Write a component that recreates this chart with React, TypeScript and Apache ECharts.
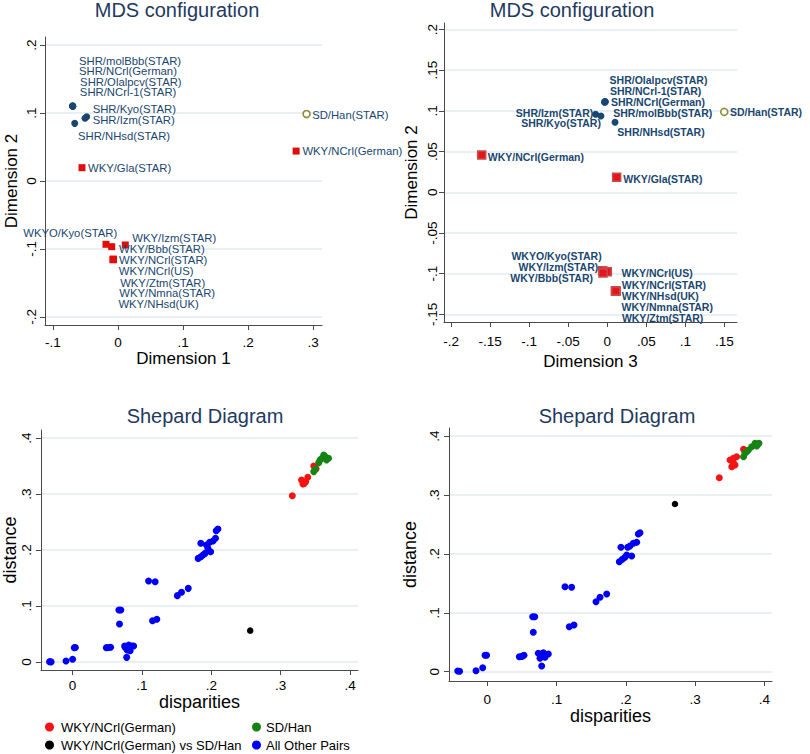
import React, { useEffect, useRef } from 'react';
import * as echarts from 'echarts';

const FONT = '"Liberation Sans", Arial, Helvetica, sans-serif';
const NAVY = '#1a476f';
const TITLE_C = '#1f3a5f';
const OLIVE = '#8b8f3b';
const AXIS_C = '#4a4a4a';
const GRID_C = '#e3ebee';

// ---------------- MDS configuration ----------------
const pointNames = [
  'SHR/molBbb(STAR)', 'SHR/NCrl(German)', 'SHR/Olalpcv(STAR)', 'SHR/NCrl-1(STAR)',
  'SHR/Kyo(STAR)', 'SHR/Izm(STAR)', 'SHR/NHsd(STAR)', 'SD/Han(STAR)',
  'WKY/NCrl(German)', 'WKY/Gla(STAR)', 'WKYO/Kyo(STAR)', 'WKY/Izm(STAR)',
  'WKY/Bbb(STAR)', 'WKY/NCrl(STAR)', 'WKY/NCrl(US)', 'WKY/Ztm(STAR)',
  'WKY/Nmna(STAR)', 'WKY/NHsd(UK)',
];
const pointGroup = [
  'SHR', 'SHR', 'SHR', 'SHR', 'SHR', 'SHR', 'SHR', 'SD',
  'WKY', 'WKY', 'WKY', 'WKY', 'WKY', 'WKY', 'WKY', 'WKY', 'WKY', 'WKY',
];
// left panel: Dimension 1 vs Dimension 2
const dim1 = [
  -0.0697, -0.0697, -0.0695, -0.0699, -0.0482, -0.0508, -0.0666, 0.290,
  0.274, -0.0554, -0.0185, 0.0112, -0.0097, -0.0072, -0.0075, -0.0070, -0.0073, -0.0071,
];
const dim2Left = [
  0.1105, 0.1100, 0.1098, 0.1102, 0.0946, 0.0922, 0.0848, 0.0985,
  0.044, 0.0196, -0.0931, -0.0941, -0.0966, -0.1150, -0.1158, -0.1154, -0.1152, -0.1156,
];
// right panel: Dimension 3 vs Dimension 2
const dim3 = [
  -0.003, -0.0025, -0.0035, -0.003, -0.0081, -0.0149, 0.0099, 0.1498,
  -0.1608, 0.012, -0.0059, 0.0, -0.0055, 0.0108, 0.0105, 0.011, 0.0106, 0.0109,
];
const dim2Right = [
  0.111, 0.1112, 0.1108, 0.1114, 0.0937, 0.0958, 0.086, 0.0988,
  0.0458, 0.0184, -0.0963, -0.0975, -0.0990, -0.1213, -0.1210, -0.1216, -0.1214, -0.1211,
];

// label placement (pixel offset from the marker, text alignment)
const labelPlaceLeft: [number, number, string][] = [
  [6.3, -45.3, 'left'], [6.3, -35, 'left'], [7.3, -24.7, 'left'], [7.3, -14, 'left'],
  [6, -8, 'left'], [7.7, 1.7, 'left'], [3.3, 12.7, 'left'], [5.6, 1, 'left'],
  [6.3, 0, 'left'], [6, 0.3, 'left'], [-82.7, -11, 'left'], [7, -6.7, 'left'],
  [7.3, 2.6, 'left'], [5.7, 0.5, 'left'], [5.7, 11.2, 'left'], [6.7, 23.2, 'left'],
  [6, 33.8, 'left'], [5, 44.5, 'left'],
];
const labelPlaceRight: [number, number, string][] = [
  [8.3, 11.4, 'left'], [5.7, 0.3, 'left'], [5, -21.9, 'left'], [5, -10.8, 'left'],
  [0, 7.3, 'right'], [-2.4, -1.6, 'right'], [2.3, 10, 'left'], [5.7, 0.3, 'left'],
  [6, 2, 'left'], [6.6, 1.7, 'left'], [-1, -15, 'right'], [-9, -4.4, 'right'],
  [-10, 5, 'right'], [6, -6.3, 'left'], [6, -17.6, 'left'], [6, 26.5, 'left'],
  [6, 15.6, 'left'], [6, 4.8, 'left'],
];

const mdsTicksX1 = [-0.1, 0, 0.1, 0.2, 0.3];
const mdsTicksY1 = [-0.2, -0.1, 0, 0.1, 0.2];
const mdsTicksX2 = [-0.2, -0.15, -0.1, -0.05, 0, 0.05, 0.1, 0.15];
const mdsTicksY2 = [-0.15, -0.1, -0.05, 0, 0.05, 0.1, 0.15, 0.2];
const shepardTicks = [0, 0.1, 0.2, 0.3, 0.4];

// ---------------- Shepard diagrams ----------------
const legendNames = ['WKY/NCrl(German)', 'SD/Han', 'WKY/NCrl(German) vs SD/Han', 'All Other Pairs'];
const legendColors = ['#f41414', '#158415', '#000000', '#0000f5'];

// left Shepard diagram
const redDispL = [0.3167, 0.330, 0.332, 0.336, 0.339, 0.334, 0.3476, 0.351];
const redDistL = [0.297, 0.325, 0.318, 0.322, 0.330, 0.319, 0.350, 0.345];
const greenDispL = [0.3476, 0.350, 0.3548, 0.357, 0.362, 0.364, 0.369, 0.366, 0.3595];
const greenDistL = [0.340, 0.344, 0.356, 0.361, 0.3696, 0.3667, 0.3637, 0.361, 0.3637];
const blackDispL = [0.256];
const blackDistL = [0.056];
const blueDispL = [
  -0.0333, -0.031, -0.0095, 0.0, 0.0024, 0.004, 0.0486, 0.0548, 0.052,
  0.081, 0.076, 0.0857, 0.0786, 0.083, 0.088, 0.075, 0.078,
  0.0667, 0.0695, 0.0676,
  0.1095, 0.119, 0.1152, 0.1214,
  0.151, 0.157, 0.1667,
  0.181, 0.185, 0.188, 0.191, 0.199, 0.195, 0.193, 0.1848, 0.1976, 0.2024, 0.206, 0.207, 0.2095,
];
const blueDistL = [
  0.0006, 0.0002, 0.0018, 0.0048, 0.0256, 0.026, 0.0256, 0.0262, 0.026,
  0.0304, 0.026, 0.0286, 0.0214, 0.0202, 0.0286, 0.0286, 0.0083,
  0.0929, 0.093, 0.068,
  0.1446, 0.1434, 0.0738, 0.0762,
  0.1185, 0.1244, 0.1315,
  0.185, 0.188, 0.191, 0.194, 0.197, 0.203, 0.209, 0.212, 0.2137, 0.216, 0.221, 0.2345, 0.2375,
];

// right Shepard diagram
const redDispR = [0.335, 0.3505, 0.3553, 0.36, 0.353, 0.3577, 0.3553, 0.37, 0.372];
const redDistR = [0.3294, 0.3594, 0.3623, 0.365, 0.348, 0.351, 0.3549, 0.3776, 0.3735];
const greenDispR = [0.37, 0.372, 0.377, 0.3818, 0.3866, 0.3905, 0.3923, 0.389, 0.3746];
const greenDistR = [0.365, 0.3708, 0.3764, 0.382, 0.3878, 0.386, 0.3878, 0.3832, 0.3735];
const blackDispR = [0.271];
const blackDistR = [0.2847];
const blueDispR = [
  -0.0427, -0.040, -0.0163, -0.0066, -0.0033, -0.001, 0.0462, 0.053, 0.050,
  0.0737, 0.0809, 0.0881, 0.0761, 0.0833, 0.078, 0.0785,
  0.0655, 0.0685, 0.0664,
  0.1122, 0.1218, 0.1184, 0.1252,
  0.157, 0.1627, 0.1724,
  0.1906, 0.195, 0.1988, 0.2013, 0.2085, 0.193, 0.2027, 0.206, 0.2108, 0.2157, 0.218, 0.2205,
];
const blueDistR = [
  0.0012, 0.0008, 0.0017, 0.0068, 0.0278, 0.028, 0.0255, 0.0278, 0.026,
  0.0312, 0.0323, 0.030, 0.0227, 0.0244, 0.028, 0.0097,
  0.0934, 0.0934, 0.0669,
  0.1443, 0.1433, 0.0764, 0.0793,
  0.1189, 0.1263, 0.1319,
  0.1868, 0.1908, 0.1942, 0.198, 0.1964, 0.2112, 0.2112, 0.2134, 0.218, 0.2197, 0.2338, 0.236,
];

const fmt = (v: number) => {
  const r = Math.round(v * 100) / 100;
  if (r === 0) return '0';
  return String(r).replace(/^(-?)0\./, '$1.');
};

function xAxisOf(gridIndex: number, min: number, max: number, ticks: number[], name: string,
  nameGap: number, nameSize: number, margin: number) {
  return {
    type: 'value', gridIndex, min, max, name, nameLocation: 'middle', nameGap,
    nameTextStyle: { fontSize: nameSize, color: '#000', fontFamily: FONT, fontWeight: 'normal' },
    axisLine: { show: true, onZero: false, lineStyle: { color: AXIS_C, width: 1 } },
    axisTick: { show: true, inside: false, length: 5, customValues: ticks, lineStyle: { color: AXIS_C } },
    axisLabel: { customValues: ticks, formatter: fmt, fontSize: 13.5, color: '#000', fontFamily: FONT, fontWeight: 'normal', margin },
    splitLine: { show: false },
  };
}

function yAxisOf(gridIndex: number, min: number, max: number, ticks: number[], name: string,
  nameGap: number, nameSize: number, margin: number) {
  return {
    type: 'value', gridIndex, min, max, name, nameLocation: 'middle', nameGap,
    nameTextStyle: { fontSize: nameSize, color: '#000', fontFamily: FONT, fontWeight: 'normal' },
    axisLine: { show: true, onZero: false, lineStyle: { color: AXIS_C, width: 1 } },
    axisTick: { show: true, inside: false, length: 5, customValues: ticks, lineStyle: { color: AXIS_C } },
    axisLabel: { customValues: ticks, formatter: fmt, fontSize: 13.5, color: '#000', fontFamily: FONT, fontWeight: 'normal', margin, rotate: 90 },
    splitLine: { show: true, lineStyle: { color: GRID_C, width: 1.5 } },
  };
}

function mdsSeries(axisIndex: number, xs: number[], ys: number[], place: [number, number, string][], bold: boolean) {
  const groups = [
    { key: 'SHR', symbol: 'circle', size: 7, itemStyle: { color: NAVY, opacity: 1 } },
    { key: 'SD', symbol: 'circle', size: 7, itemStyle: { color: '#ffffff', borderColor: OLIVE, borderWidth: 1.6, opacity: 1 } },
    {
      key: 'WKY', symbol: 'rect', size: bold ? 8 : 7,
      itemStyle: bold
        ? { color: '#e3161b', borderColor: '#c94b4b', borderWidth: 1.5, opacity: 1 }
        : { color: '#e00d0d', opacity: 1 },
    },
  ];
  return groups.map((g) => ({
    type: 'scatter',
    name: 'mds-' + axisIndex + '-' + g.key,
    xAxisIndex: axisIndex,
    yAxisIndex: axisIndex,
    symbol: g.symbol,
    symbolSize: g.size,
    itemStyle: g.itemStyle,
    silent: true,
    label: {
      show: true, position: 'inside', formatter: '{b}', color: NAVY,
      fontSize: bold ? 10.5 : 11.3, fontWeight: bold ? 'bold' : 'normal', fontFamily: FONT,
      verticalAlign: 'middle', lineHeight: bold ? 10.5 : 12,
    },
    data: pointNames
      .map((n, i) => ({ n, i }))
      .filter((o) => pointGroup[o.i] === g.key)
      .map(({ n, i }) => ({
        name: n,
        value: [xs[i], ys[i]],
        label: { offset: [place[i][0], place[i][1]], align: place[i][2] },
      })),
  }));
}

function shepardSeries(axisIndex: number, sets: [number[], number[]][]) {
  return sets.map((s, k) => ({
    type: 'scatter',
    name: legendNames[k],
    xAxisIndex: axisIndex,
    yAxisIndex: axisIndex,
    symbol: 'circle',
    symbolSize: k === 2 ? 6.5 : 7,
    itemStyle: { color: legendColors[k], opacity: 1 },
    silent: true,
    data: s[0].map((x, i) => [x, s[1][i]]),
  }));
}

export default function App() {
  const ref = useRef<HTMLDivElement>(null);
  useEffect(() => {
    if (!ref.current) return;
    const chart = echarts.init(ref.current, undefined, { renderer: 'svg' });
    const titleStyle = { fontSize: 20, fontWeight: 'normal', color: TITLE_C, fontFamily: FONT };
    const option = {
      animation: false,
      backgroundColor: '#ffffff',
      title: [
        { text: 'MDS configuration', left: 177, top: 0, textAlign: 'center', padding: 0, textStyle: titleStyle },
        { text: 'MDS configuration', left: 572, top: 0, textAlign: 'center', padding: 0, textStyle: titleStyle },
        { text: 'Shepard Diagram', left: 205, top: 406, textAlign: 'center', padding: 0, textStyle: titleStyle },
        { text: 'Shepard Diagram', left: 617, top: 406, textAlign: 'center', padding: 0, textStyle: titleStyle },
      ],
      grid: [
        { left: 45, top: 37, width: 277, height: 288 },
        { left: 444, top: 23, width: 293, height: 299 },
        { left: 38, top: 430, width: 320, height: 240 },
        { left: 449, top: 428, width: 323, height: 253 },
      ],
      xAxis: [
        xAxisOf(0, -0.1123, 0.3138, mdsTicksX1, 'Dimension 1', 25, 17, 10),
        xAxisOf(1, -0.2091, 0.1661, mdsTicksX2, 'Dimension 3', 31, 17, 12),
        xAxisOf(2, -0.0457, 0.4114, shepardTicks, 'disparities', 22, 18, 8),
        xAxisOf(3, -0.0553, 0.4111, shepardTicks, 'disparities', 24, 18, 11),
      ],
      yAxis: [
        yAxisOf(0, -0.2118, 0.2118, mdsTicksY1, 'Dimension 2', 25, 17, 7),
        yAxisOf(1, -0.1593, 0.208, mdsTicksY2, 'Dimension 2', 24, 17, 5),
        yAxisOf(2, -0.0143, 0.4143, shepardTicks, 'distance', 20, 18, 7),
        yAxisOf(3, -0.0158, 0.4138, shepardTicks, 'distance', 30, 18, 8),
      ],
      legend: legendNames.map((n, i) => ({
        data: [n],
        left: [45, 252, 45, 252][i],
        top: [720, 720, 738, 738][i],
        itemWidth: 9,
        itemHeight: 9,
        padding: 0,
        icon: 'circle',
        selectedMode: false,
        textStyle: { fontSize: 13, color: '#000', fontFamily: FONT, lineHeight: 14, padding: i % 2 === 0 ? [0, 0, 0, 2] : 0 },
      })),
      series: [
        ...mdsSeries(0, dim1, dim2Left, labelPlaceLeft, false),
        ...mdsSeries(1, dim3, dim2Right, labelPlaceRight, true),
        ...shepardSeries(2, [[redDispL, redDistL], [greenDispL, greenDistL], [blackDispL, blackDistL], [blueDispL, blueDistL]]),
        ...shepardSeries(3, [[redDispR, redDistR], [greenDispR, greenDistR], [blackDispR, blackDistR], [blueDispR, blueDistR]]),
      ],
    };
    chart.setOption(option as any);
    return () => chart.dispose();
  }, []);
  return (
    <div
      ref={ref}
      style={{ position: 'absolute', left: 0, top: 0, width: 810, height: 754, background: '#fff' }}
    />
  );
}
